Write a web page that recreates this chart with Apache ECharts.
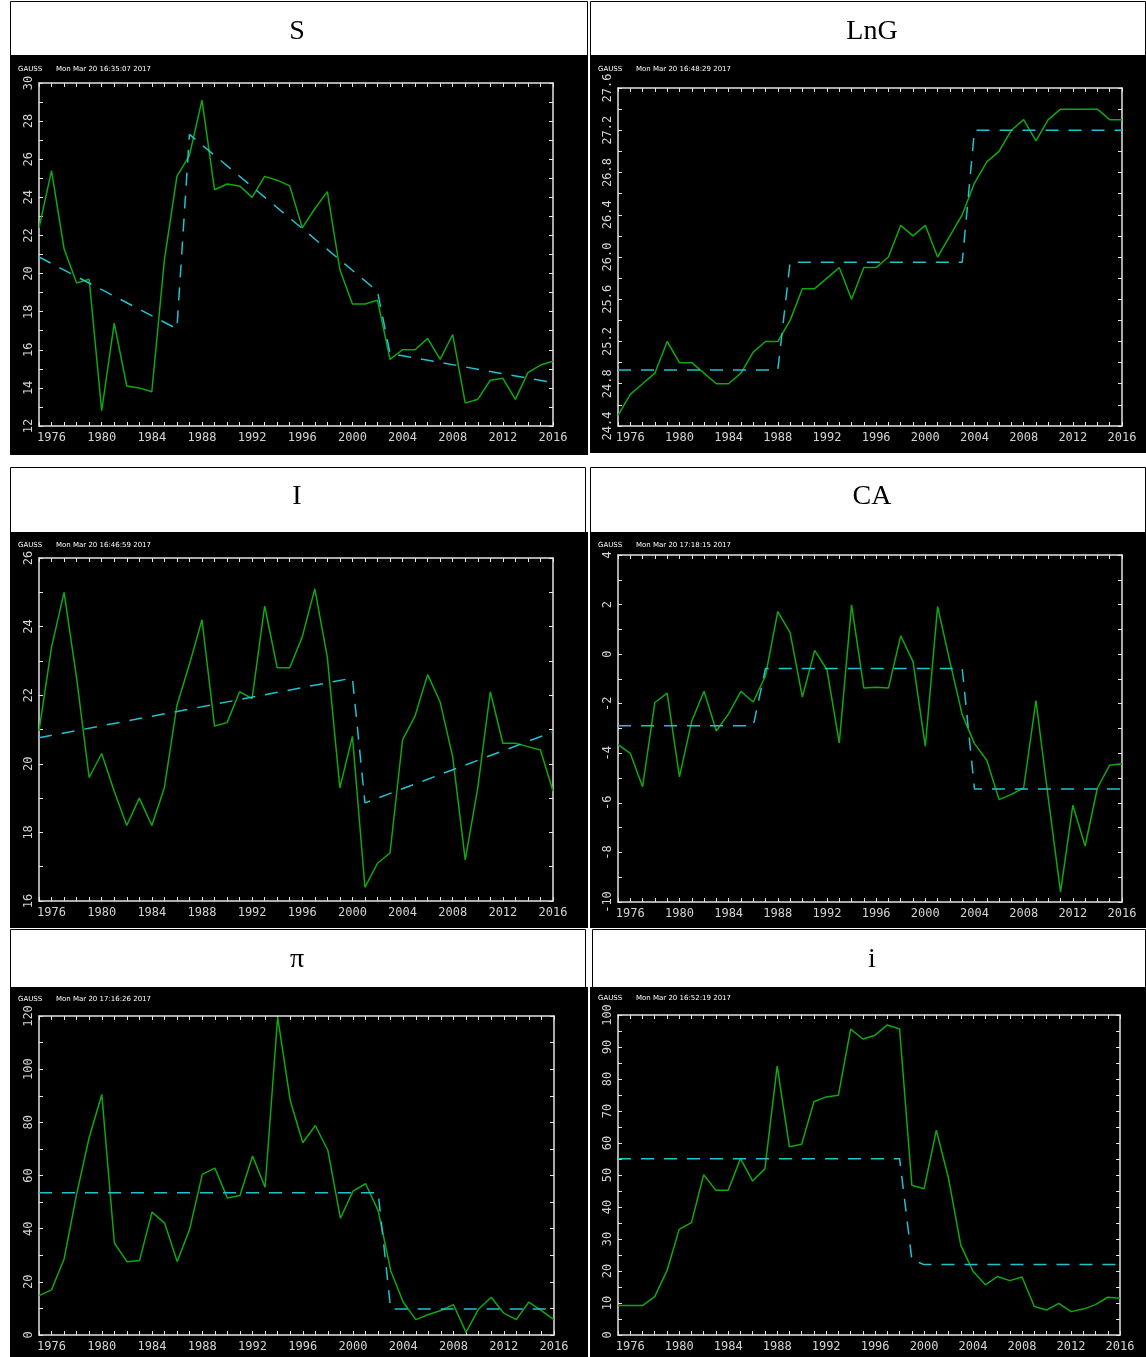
<!DOCTYPE html>
<html>
<head>
<meta charset="utf-8">
<script src="https://cdn.jsdelivr.net/npm/echarts@6/dist/echarts.min.js"></script>
<style>
    html, body { margin: 0; padding: 0; background: #fff; }
    #chart { width: 1146px; height: 1357px; }
</style>
</head>
<body>
<div id="chart"></div>
<script>
// years on the x axis
var years = [1975, 1976, 1977, 1978, 1979, 1980, 1981, 1982, 1983, 1984, 1985, 1986, 1987, 1988,
    1989, 1990, 1991, 1992, 1993, 1994, 1995, 1996, 1997, 1998, 1999, 2000, 2001, 2002,
    2003, 2004, 2005, 2006, 2007, 2008, 2009, 2010, 2011, 2012, 2013, 2014, 2015, 2016];

// S
var sValues = [22.4, 25.4, 21.3, 19.5, 19.7, 12.8, 17.4, 14.1, 14.0, 13.8, 20.7, 25.1, 26.2, 29.1,
    24.4, 24.7, 24.6, 24.0, 25.1, 24.9, 24.6, 22.4, 23.4, 24.3, 20.2, 18.4, 18.4, 18.6,
    15.5, 16.0, 16.0, 16.6, 15.5, 16.8, 13.2, 13.4, 14.4, 14.5, 13.4, 14.8, 15.2, 15.4];
var sFit = [[1975, 20.87], [1986, 17.1], [1987, 27.3], [2002, 19.07], [2003, 15.8], [2016, 14.28]];

// LnG
var lngValues = [24.5, 24.7, 24.8, 24.9, 25.2, 25.0, 25.0, 24.9, 24.8, 24.8, 24.9, 25.1, 25.2, 25.2,
    25.4, 25.7, 25.7, 25.8, 25.9, 25.6, 25.9, 25.9, 26.0, 26.3, 26.2, 26.3, 26.0, 26.2,
    26.4, 26.7, 26.9, 27.0, 27.2, 27.3, 27.1, 27.3, 27.4, 27.4, 27.4, 27.4, 27.3, 27.3];
var lngFit = [[1975, 24.93], [1988, 24.93], [1989, 25.95], [2003, 25.95], [2004, 27.2], [2016, 27.2]];

// I
var iValues = [20.95, 23.4, 25.0, 22.5, 19.6, 20.3, 19.2, 18.2, 19.0, 18.2, 19.3, 21.7, 22.9, 24.2,
    21.1, 21.2, 22.1, 21.9, 24.6, 22.8, 22.8, 23.7, 25.1, 23.1, 19.3, 20.8, 16.4, 17.1,
    17.4, 20.7, 21.4, 22.6, 21.8, 20.2, 17.2, 19.3, 22.1, 20.6, 20.6, 20.5, 20.4, 19.2];
var iFit = [[1975, 20.76], [2000, 22.5], [2001, 18.86], [2016, 20.93]];

// CA
var caValues = [-3.65, -4.0, -5.35, -1.95, -1.57, -4.95, -2.7, -1.5, -3.1, -2.4, -1.5, -1.93, -0.87, 1.72,
    0.87, -1.73, 0.15, -0.63, -3.58, 1.99, -1.37, -1.34, -1.37, 0.74, -0.3, -3.72, 1.92, -0.3,
    -2.44, -3.61, -4.28, -5.87, -5.66, -5.4, -1.87, -5.8, -9.6, -6.1, -7.74, -5.4, -4.48, -4.42];
var caFit = [[1975, -2.89], [1986, -2.89], [1987, -0.58], [2003, -0.58], [2004, -5.44], [2016, -5.44]];

// pi (inflation)
var piValues = [14.8, 17.0, 28.6, 53.1, 74.4, 90.5, 34.6, 27.6, 28.0, 46.2, 42.1, 27.6, 39.9, 60.4,
    62.8, 51.5, 52.5, 67.3, 55.6, 119.6, 88.2, 72.3, 78.8, 69.4, 43.9, 54.1, 56.9, 46.8,
    24.2, 12.3, 5.8, 7.7, 9.2, 11.4, 1.0, 9.8, 14.2, 8.2, 5.8, 12.4, 9.2, 5.8];
var piFit = [[1975, 53.5], [2002, 53.5], [2003, 9.8], [2016, 9.8]];

// i (interest rate)
var rateValues = [9.2, 9.2, 9.2, 12.0, 20.1, 33.0, 35.1, 50.1, 45.2, 45.2, 55.1, 48.1, 52.0, 84.0,
    58.8, 59.6, 72.9, 74.4, 74.9, 95.6, 92.5, 93.7, 96.9, 95.6, 46.8, 45.7, 64.0, 48.9,
    28.0, 19.9, 15.7, 18.3, 17.0, 18.1, 8.9, 7.8, 9.9, 7.3, 8.1, 9.5, 11.8, 11.5];
var rateFit = [[1975, 55.1], [1998, 55.1], [1999, 23.5], [2000, 22.0], [2016, 22.0]];

// panel titles and plot stamps
var titles = ['S', 'LnG', 'I', 'CA', 'π', 'i'];
var stamps = ['Mon Mar 20 16:35:07 2017', 'Mon Mar 20 16:48:29 2017', 'Mon Mar 20 16:46:59 2017',
    'Mon Mar 20 17:18:15 2017', 'Mon Mar 20 17:16:26 2017', 'Mon Mar 20 16:52:19 2017'];

// layout: title box, title centre, black area, plot grid, y scale [min, max, minor step, label every n, decimals]
var panels = [
    { box: [10, 1, 577, 54], title: [297, 32], bg: [10, 55, 578, 400], grid: [39, 83, 514, 343], stampY: 69,
      y: [12, 30, 1, 2, 0], values: sValues, fit: sFit },
    { box: [590, 1, 555, 54], title: [872, 32], bg: [590, 55, 556, 398], grid: [618, 88, 504, 338], stampY: 69,
      y: [24.4, 27.6, 0.2, 2, 1], values: lngValues, fit: lngFit },
    { box: [10, 467, 575, 65], title: [297, 497], bg: [10, 532, 578, 396], grid: [39, 558, 514, 343], stampY: 545,
      y: [16, 26, 1, 2, 0], values: iValues, fit: iFit },
    { box: [590, 467, 555, 65], title: [872, 497], bg: [590, 532, 556, 396], grid: [618, 555, 504, 347], stampY: 545,
      y: [-10, 4, 1, 2, 0], values: caValues, fit: caFit },
    { box: [10, 929, 575, 58], title: [297, 960], bg: [10, 987, 578, 370], grid: [39, 1016, 515, 319], stampY: 999,
      y: [0, 120, 10, 2, 0], values: piValues, fit: piFit },
    { box: [592, 929, 553, 58], title: [872, 960], bg: [590, 987, 556, 370], grid: [618, 1015, 502, 320], stampY: 998,
      y: [0, 100, 5, 2, 0], values: rateValues, fit: rateFit }
];

var axisColor = '#e4e4e4';
var labelFont = '"DejaVu Sans Mono"';

function buildOption() {
    var graphics = [];
    var grids = [];
    var xAxes = [];
    var yAxes = [];
    var series = [];

    panels.forEach(function(p, k) {
        graphics.push({
            type: 'rect', z: -10, silent: true,
            shape: { x: p.bg[0], y: p.bg[1], width: p.bg[2], height: p.bg[3] },
            style: { fill: '#000' }
        });
        graphics.push({
            type: 'rect', z: -10, silent: true,
            shape: { x: p.box[0] + 0.5, y: p.box[1] + 0.5, width: p.box[2], height: p.box[3] },
            style: { fill: '#fff', stroke: '#000', lineWidth: 1 }
        });
        graphics.push({
            type: 'text', z: 10, silent: true,
            x: p.title[0], y: p.title[1],
            style: {
                text: titles[k], font: '28px "Liberation Serif"', fill: '#000',
                align: 'center', verticalAlign: 'middle',
                textAlign: 'center', textVerticalAlign: 'middle'
            }
        });
        graphics.push({
            type: 'text', z: 10, silent: true,
            x: p.bg[0] + 8, y: p.stampY,
            style: {
                text: 'GAUSS', font: '7px "DejaVu Sans"', fill: '#fff',
                verticalAlign: 'middle', textVerticalAlign: 'middle'
            }
        });
        graphics.push({
            type: 'text', z: 10, silent: true,
            x: p.bg[0] + 46, y: p.stampY,
            style: {
                text: stamps[k], font: '7px "DejaVu Sans"', fill: '#fff',
                verticalAlign: 'middle', textVerticalAlign: 'middle'
            }
        });

        grids.push({
            left: p.grid[0], top: p.grid[1], width: p.grid[2], height: p.grid[3],
            show: false
        });

        var lineCommon = { show: true, onZero: false, lineStyle: { color: axisColor, width: 1.5 } };
        var tickCommon = { show: true, inside: true, length: 4, lineStyle: { color: axisColor, width: 1 } };

        // bottom and top x axes
        xAxes.push({
            type: 'value', gridIndex: k, position: 'bottom',
            min: 1975, max: 2016, interval: 1,
            axisLine: lineCommon, axisTick: tickCommon, splitLine: { show: false },
            axisLabel: {
                color: '#d4d4d4', fontFamily: labelFont, fontSize: 12, margin: 6,
                showMinLabel: true, showMaxLabel: true,
                formatter: function(v) { return (v - 1976) % 4 === 0 ? String(v) : ''; }
            }
        });
        xAxes.push({
            type: 'value', gridIndex: k, position: 'top',
            min: 1975, max: 2016, interval: 1,
            axisLine: lineCommon, axisTick: tickCommon, splitLine: { show: false },
            axisLabel: { show: false }
        });

        var ymin = p.y[0], ymax = p.y[1], step = p.y[2], every = p.y[3], dec = p.y[4];
        yAxes.push({
            type: 'value', gridIndex: k, position: 'left',
            min: ymin, max: ymax, interval: step,
            axisLine: lineCommon, axisTick: tickCommon, splitLine: { show: false },
            axisLabel: {
                color: '#d4d4d4', fontFamily: labelFont, fontSize: 12, margin: 4, rotate: 90,
                showMinLabel: true, showMaxLabel: true,
                formatter: function(v) {
                    var n = Math.round((v - ymin) / step);
                    return n % every === 0 ? v.toFixed(dec) : '';
                }
            }
        });
        yAxes.push({
            type: 'value', gridIndex: k, position: 'right',
            min: ymin, max: ymax, interval: step,
            axisLine: lineCommon, axisTick: tickCommon, splitLine: { show: false },
            axisLabel: { show: false }
        });

        series.push({
            type: 'line', xAxisIndex: 2 * k, yAxisIndex: 2 * k,
            data: years.map(function(yr, i) { return [yr, p.values[i]]; }),
            showSymbol: false, silent: true, animation: false,
            lineStyle: { color: '#0fa80f', width: 1.5 }
        });
        series.push({
            type: 'line', xAxisIndex: 2 * k, yAxisIndex: 2 * k,
            data: p.fit,
            showSymbol: false, silent: true, animation: false,
            lineStyle: { color: '#1fc3cf', width: 1.5, type: [13, 10] }
        });
    });

    return {
        backgroundColor: '#fff',
        animation: false,
        graphic: graphics,
        grid: grids,
        xAxis: xAxes,
        yAxis: yAxes,
        series: series
    };
}

var chart = echarts.init(document.getElementById('chart'));
chart.setOption(buildOption());
</script>
</body>
</html>
